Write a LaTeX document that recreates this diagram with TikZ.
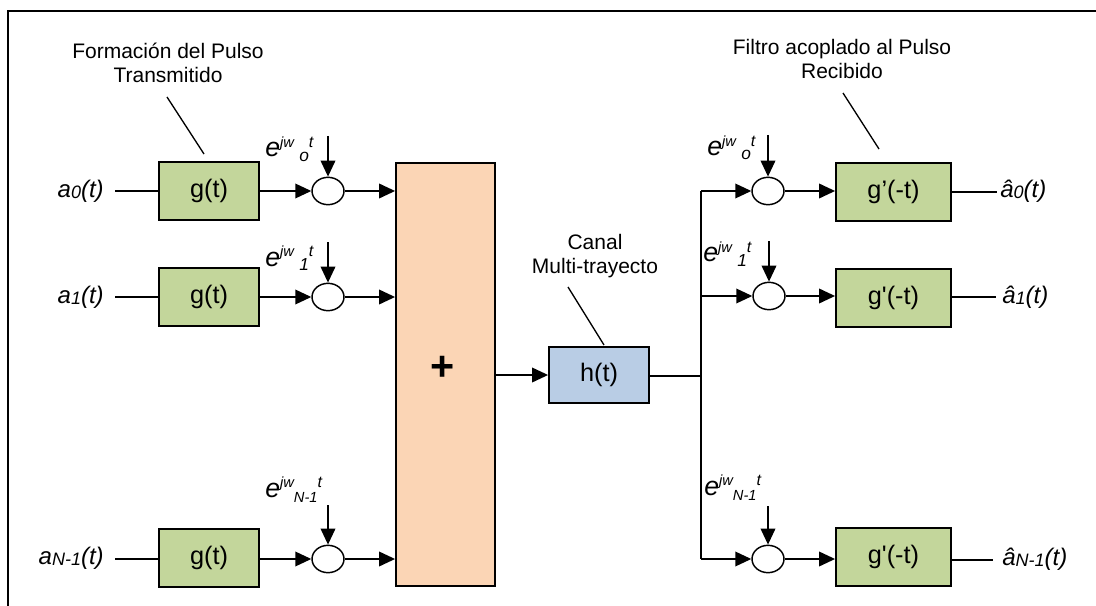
\documentclass[tikz,border=0pt]{standalone}
\usepackage{fontspec}
\setmainfont{Liberation Sans}
\usetikzlibrary{arrows.meta,shapes.geometric}
\definecolor{gfill}{HTML}{C3D69B}
\definecolor{ofill}{HTML}{FBD5B5}
\definecolor{bfill}{HTML}{B9CDE5}
\newcommand\expolab[4]{{\fontsize{20}{20}\selectfont\itshape e}\raisebox{6.8pt}{\fontsize{11}{11}\selectfont\itshape jw}\hspace{#2}\raisebox{#4}{\fontsize{#3}{#3}\selectfont\itshape #1}\raisebox{7.2pt}{\fontsize{12}{12}\selectfont\itshape t}}
\newcommand\siglab[2]{{\itshape #1}{\fontsize{13.5}{13.5}\selectfont\itshape\raisebox{-0.6pt}{#2}}{\itshape (t)}}
\begin{document}
\begin{tikzpicture}[x=0.75pt,y=-0.75pt,
  box/.style={draw, line width=1.4pt, inner sep=0, minimum height=43.5pt, font=\fontsize{19}{19}\selectfont},
  gbox/.style={box, fill=gfill},
  mix/.style={draw, ellipse, line width=1.1pt, inner sep=0, minimum width=24pt, minimum height=20.5pt, fill=white},
  arr/.style={line width=1.1pt, -{Triangle[length=12pt,width=11pt]}},
  ln/.style={line width=1.1pt},
  note/.style={inner sep=0, align=center, font=\fontsize{15.75}{18}\selectfont},
  sig/.style={inner sep=0, font=\fontsize{18}{18}\selectfont},
  ex/.style={inner sep=0, anchor=base west}]
\useasboundingbox (0,0) rectangle (1096,606);
% frame
\draw[line width=1.5pt] (8,606) -- (8,11) -- (1096,11);

% transmitter side
\node[gbox, minimum width=75pt] (g0) at (209,191) {g(t)};
\node[gbox, minimum width=75pt] (g1) at (209,297) {g(t)};
\node[gbox, minimum width=75pt] (gN) at (209,558) {g(t)};

\node[sig, anchor=east] (a0) at (104,191) {\siglab{a}{0}};
\node[sig, anchor=east] (a1) at (104,297) {\siglab{a}{1}};
\node[sig, anchor=east] (aN) at (104,558) {\siglab{a}{N-1}};

\coordinate (i0) at (115,191);
\coordinate (i1) at (115,297);
\coordinate (iN) at (115,559);
\draw[ln] (i0) -- (g0.west);
\draw[ln] (i1) -- (g1.west);
\draw[ln] (iN) -- (gN.west|-iN);

\node[mix] (m0) at (328,191) {};
\node[mix] (m1) at (328,297) {};
\node[mix] (mN) at (328,559) {};

\draw[arr] (g0.east) -- (m0.west);
\draw[arr] (g1.east) -- (m1.west);
\draw[arr] (gN.east|-mN) -- (mN.west);

\coordinate (d0) at (328,136);
\coordinate (d1) at (328,242);
\coordinate (dN) at (328,505);
\draw[arr] (d0) -- (m0.north);
\draw[arr] (d1) -- (m1.north);
\draw[arr] (dN) -- (mN.north);

\node[ex] (e0) at (265,157) {\expolab{o}{4pt}{13}{-3.4pt}};
\node[ex] (e1) at (265,266) {\expolab{1}{4pt}{13}{-3.4pt}};
\node[ex] (eN) at (265,497) {\expolab{N-1}{0pt}{11}{-3.8pt}};

% summing block
\node[box, fill=ofill, minimum width=74.25pt, minimum height=317.25pt] (sum) at (445.5,374.5) {};
\node[inner sep=0, font=\fontsize{31}{31}\selectfont\bfseries] (plus) at (443,368) {+};
\draw[arr] (m0.east) -- (sum.west|-m0);
\draw[arr] (m1.east) -- (sum.west|-m1);
\draw[arr] (mN.east) -- (sum.west|-mN);

% channel
\node[box, fill=bfill, minimum width=75pt, minimum height=42pt] (h) at (599,375) {h(t)};
\draw[arr] (sum.east|-h) -- (h.west);
\coordinate (split) at (701,376);
\draw[ln] (h.east|-split) -- (split);

% receiver side
\node[mix] (r0) at (768,191) {};
\node[mix] (r1) at (769,296) {};
\node[mix] (rN) at (768,559) {};
\coordinate (s0) at (701,191);
\coordinate (s1) at (701,296);
\coordinate (sN) at (701,559);
\draw[ln] (s0) -- (sN);
\draw[arr] (s0) -- (r0.west);
\draw[arr] (s1) -- (r1.west);
\draw[arr] (sN) -- (rN.west);

\coordinate (u0) at (768,135);
\coordinate (u1) at (769,241);
\coordinate (uN) at (768,506);
\draw[arr] (u0) -- (r0.north);
\draw[arr] (u1) -- (r1.north);
\draw[arr] (uN) -- (rN.north);

\node[ex] (f0) at (707,156) {\expolab{o}{4pt}{13}{-3pt}};
\node[ex] (f1) at (703,262) {\expolab{1}{4pt}{13}{-3pt}};
\node[ex] (fN) at (704,495) {\expolab{N-1}{0pt}{11}{-3.8pt}};

\node[gbox, minimum width=86.25pt] (q0) at (893.5,192) {g’(-t)};
\node[gbox, minimum width=86.25pt] (q1) at (893.5,298) {g\textquotesingle(-t)};
\node[gbox, minimum width=86.25pt] (qN) at (893.5,557) {g\textquotesingle(-t)};
\draw[arr] (r0.east) -- (q0.west|-r0);
\draw[arr] (r1.east) -- (q1.west|-r1);
\draw[arr] (rN.east) -- (qN.west|-rN);

\coordinate (o0) at (997,192);
\coordinate (o1) at (996,297);
\coordinate (oN) at (993,560);
\draw[ln] (q0.east|-o0) -- (o0);
\draw[ln] (q1.east|-o1) -- (o1);
\draw[ln] (qN.east|-oN) -- (oN);

\node[sig, anchor=west] (b0) at (1000,191) {\siglab{â}{0}};
\node[sig, anchor=west] (b1) at (1002,297) {\siglab{â}{1}};
\node[sig, anchor=west] (bN) at (1002,559) {\siglab{â}{N-1}};

% annotations
\node[note, anchor=south] (n1) at (168,83) {Formación del Pulso\\Transmitido};
\node[note, anchor=south] (n2) at (842,79) {Filtro acoplado al Pulso\\Recibido};
\node[note, anchor=south] (n3) at (595,278) {Canal\\Multi-trayecto};
\coordinate (l1a) at (167,97);  \coordinate (l1b) at (204,154);
\coordinate (l2a) at (843,93);  \coordinate (l2b) at (879,149);
\coordinate (l3a) at (568,287); \coordinate (l3b) at (604,345);
\draw[ln, line width=1pt] (l1a) -- (l1b);
\draw[ln, line width=1pt] (l2a) -- (l2b);
\draw[ln, line width=1pt] (l3a) -- (l3b);
\end{tikzpicture}
\end{document}
